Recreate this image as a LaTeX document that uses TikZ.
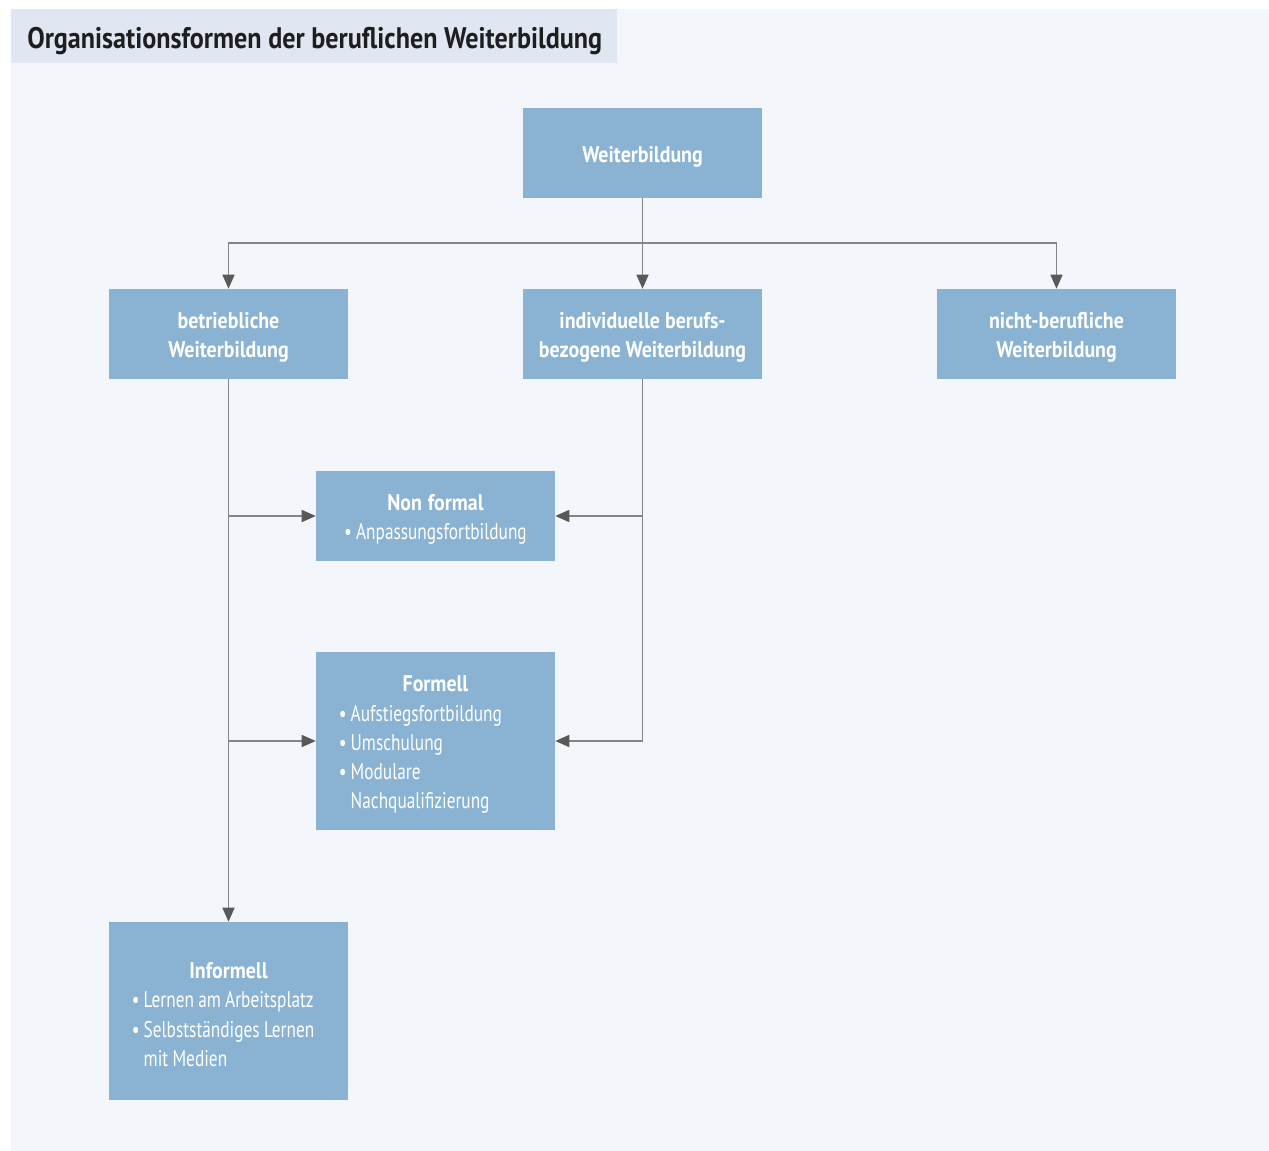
\documentclass[tikz,border=0pt]{standalone}
\usepackage{fontspec}
\setmainfont{PT Sans}[
  UprightFeatures={FakeStretch=0.763},
  BoldFeatures={FakeStretch=0.879}]
\usetikzlibrary{arrows.meta}
\definecolor{panelbg}{HTML}{F3F7FC}
\definecolor{titlebg}{HTML}{E0E7F2}
\definecolor{boxblue}{HTML}{8AB3D3}
\definecolor{linegray}{HTML}{858585}
\definecolor{tipgray}{HTML}{595959}
\definecolor{titletext}{HTML}{1E1E1E}
\newcommand{\itm}{\textbullet\hspace{0.18em}}
\newcommand{\itmpad}{\phantom{\textbullet}\hspace{0.18em}}
\tikzset{
  box/.style={fill=boxblue, text=white, minimum width=179.25pt, minimum height=67.5pt,
    inner sep=0pt, text width=172pt, align=center, font=\fontsize{17}{21.9}\selectfont,
    execute at begin node={\spaceskip=0.19em plus 0.05em minus 0.03em\rule{0pt}{17.5pt}}},
  tallbox/.style={box, minimum height=133.5pt},
  listbox/.style={tallbox, text width=145pt, align=left},
  conn/.style={draw=linegray, line width=1.1pt,
    -{Triangle[length=10.5pt, width=9pt, color=tipgray]}},
}
\begin{document}
\begin{tikzpicture}[x=0.75pt, y=-0.75pt]
  \useasboundingbox (0,0) rectangle (1269,1151);
  % background panel and title band
  \fill[panelbg] (11,9) rectangle (1269,1151);
  \fill[titlebg] (11,9) rectangle (617,63);
  \node[anchor=base west, inner sep=0pt, text=titletext,
        font=\fontsize{22.3}{26}\selectfont\bfseries] (title) at (27,48.5)
        {Organisationsformen der beruflichen Weiterbildung};

  % boxes
  \node[box] (top) at (642.5,153) {\textbf{Weiterbildung}};
  \node[box] (bet) at (228.5,334) {\textbf{betriebliche}\\\textbf{Weiterbildung}};
  \node[box] (ind) at (642.5,334) {\textbf{individuelle berufs-}\\\textbf{bezogene Weiterbildung}};
  \node[box] (nb)  at (1056.5,334) {\textbf{nicht-berufliche}\\\textbf{Weiterbildung}};
  \node[box] (nf)  at (435.5,516) {\textbf{Non formal}\\\itm Anpassungsfortbildung};
  \node[listbox] (fo) at (435.5,741)
    {\makebox[\linewidth]{\textbf{Formell}}\\
     \itm Aufstiegsfortbildung\\
     \itm Umschulung\\
     \itm Modulare\\
     \itmpad Nachqualifizierung};
  \node[listbox] (inf) at (228.5,1011)
    {\makebox[\linewidth]{\textbf{Informell}}\\
     \itm Lernen am Arbeitsplatz\\
     \itm Selbstständiges Lernen\\
     \itmpad mit Medien};

  % connectors
  \coordinate (split) at (642.5,243);
  \draw[draw=linegray, line width=1.1pt] (top.south) -- (split);
  \draw[conn] (split) -| (bet.north);
  \draw[conn] (split) -| (nb.north);
  \draw[conn] (split) -- (ind.north);
  \draw[conn] (bet.south) -- (inf.north);
  \draw[conn] (bet.south |- nf.west) -- (nf.west);
  \draw[conn] (bet.south |- fo.west) -- (fo.west);
  \draw[conn] (ind.south) |- (fo.east);
  \draw[conn] (ind.south |- nf.east) -- (nf.east);
\end{tikzpicture}
\end{document}
